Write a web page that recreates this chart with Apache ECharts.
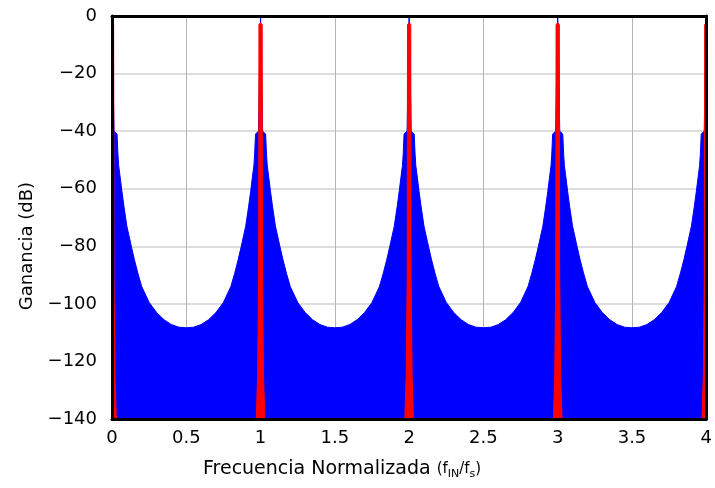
<!DOCTYPE html>
<html>
<head>
<meta charset="utf-8">
<script src="https://cdn.jsdelivr.net/npm/echarts@6/dist/echarts.min.js"></script>
<style>body{margin:0;background:#fff}#chart{width:715px;height:488px}</style>
</head>
<body>
<div id="chart"></div>
<script>
const freqLobe1 = [0, 0.006, 0.013, 0.014, 0.034, 0.04, 0.045, 0.055, 0.067, 0.08, 0.1, 0.13, 0.15, 0.175, 0.2, 0.25, 0.3, 0.35, 0.4, 0.45, 0.5, 0.55, 0.6, 0.65, 0.7, 0.75, 0.8, 0.825, 0.85, 0.87, 0.9, 0.92, 0.933, 0.945, 0.955, 0.96, 0.966, 0.986, 0.987, 0.994];
const gainLobe1 = [0, -15, -38, -40, -41, -48, -52, -56, -61, -66, -73, -80, -84.5, -89.5, -94, -99.5, -103, -105.5, -107.2, -108.1, -108.3, -108.1, -107.2, -105.5, -103, -99.5, -94, -89.5, -84.5, -80, -73, -66, -61, -56, -52, -48, -41, -40, -38, -15];
const freqLobe2 = [1, 1.006, 1.013, 1.014, 1.034, 1.04, 1.045, 1.055, 1.067, 1.08, 1.1, 1.13, 1.15, 1.175, 1.2, 1.25, 1.3, 1.35, 1.4, 1.45, 1.5, 1.55, 1.6, 1.65, 1.7, 1.75, 1.8, 1.825, 1.85, 1.87, 1.9, 1.92, 1.933, 1.945, 1.955, 1.96, 1.966, 1.986, 1.987, 1.994];
const gainLobe2 = [0, -15, -38, -40, -41, -48, -52, -56, -61, -66, -73, -80, -84.5, -89.5, -94, -99.5, -103, -105.5, -107.2, -108.1, -108.3, -108.1, -107.2, -105.5, -103, -99.5, -94, -89.5, -84.5, -80, -73, -66, -61, -56, -52, -48, -41, -40, -38, -15];
const freqLobe3 = [2, 2.006, 2.013, 2.014, 2.034, 2.04, 2.045, 2.055, 2.067, 2.08, 2.1, 2.13, 2.15, 2.175, 2.2, 2.25, 2.3, 2.35, 2.4, 2.45, 2.5, 2.55, 2.6, 2.65, 2.7, 2.75, 2.8, 2.825, 2.85, 2.87, 2.9, 2.92, 2.933, 2.945, 2.955, 2.96, 2.966, 2.986, 2.987, 2.994];
const gainLobe3 = [0, -15, -38, -40, -41, -48, -52, -56, -61, -66, -73, -80, -84.5, -89.5, -94, -99.5, -103, -105.5, -107.2, -108.1, -108.3, -108.1, -107.2, -105.5, -103, -99.5, -94, -89.5, -84.5, -80, -73, -66, -61, -56, -52, -48, -41, -40, -38, -15];
const freqLobe4 = [3, 3.006, 3.013, 3.014, 3.034, 3.04, 3.045, 3.055, 3.067, 3.08, 3.1, 3.13, 3.15, 3.175, 3.2, 3.25, 3.3, 3.35, 3.4, 3.45, 3.5, 3.55, 3.6, 3.65, 3.7, 3.75, 3.8, 3.825, 3.85, 3.87, 3.9, 3.92, 3.933, 3.945, 3.955, 3.96, 3.966, 3.986, 3.987, 3.994, 4];
const gainLobe4 = [0, -15, -38, -40, -41, -48, -52, -56, -61, -66, -73, -80, -84.5, -89.5, -94, -99.5, -103, -105.5, -107.2, -108.1, -108.3, -108.1, -107.2, -105.5, -103, -99.5, -94, -89.5, -84.5, -80, -73, -66, -61, -56, -52, -48, -41, -40, -38, -15, 0];

// picos rojos en cada multiplo de fs
const redPeaks = [
  { freq: [0, 0.011, 0.013, 0.02, 0.029], gain: [-2.3, -3, -90, -125, -140] },
  { freq: [0.971, 0.98, 0.987, 0.989, 1, 1.011, 1.013, 1.02, 1.029], gain: [-140, -125, -90, -3, -2.3, -3, -90, -125, -140] },
  { freq: [1.971, 1.98, 1.987, 1.989, 2, 2.011, 2.013, 2.02, 2.029], gain: [-140, -125, -90, -3, -2.3, -3, -90, -125, -140] },
  { freq: [2.971, 2.98, 2.987, 2.989, 3, 3.011, 3.013, 3.02, 3.029], gain: [-140, -125, -90, -3, -2.3, -3, -90, -125, -140] },
  { freq: [3.971, 3.98, 3.987, 3.989, 4], gain: [-140, -125, -90, -3, -2.3] }
];

const xTicks = [0, 0.5, 1, 1.5, 2, 2.5, 3, 3.5, 4];
const yTicks = [0, -20, -40, -60, -80, -100, -120, -140];

const zip = (xs, ys) => xs.map((x, i) => [x, ys[i]]);
const blueData = [].concat(
  zip(freqLobe1, gainLobe1), zip(freqLobe2, gainLobe2),
  zip(freqLobe3, gainLobe3), zip(freqLobe4, gainLobe4)
);

const FONT = 'DejaVu Sans';
const minus = v => String(v).replace('-', '\u2212');

// ejes extra solo para el marco negro, por encima de las series
const frame = pos => ({
  type: 'value', position: pos,
  axisLine: { show: true, onZero: false, lineStyle: { color: '#000', width: 3 } },
  axisTick: { show: false },
  axisLabel: { show: false },
  splitLine: { show: false },
  z: 10
});

const series = [{
  type: 'line',
  data: blueData,
  showSymbol: false,
  smooth: false,
  lineStyle: { color: '#0000ff', width: 1 },
  areaStyle: { color: '#0000ff', opacity: 1, origin: 'start' },
  itemStyle: { color: '#0000ff' },
  z: 2
}];
redPeaks.forEach(p => series.push({
  type: 'line',
  data: zip(p.freq, p.gain),
  showSymbol: false,
  lineStyle: { color: '#ff0000', width: 1 },
  areaStyle: { color: '#ff0000', opacity: 1, origin: 'start' },
  itemStyle: { color: '#ff0000' },
  z: 3
}));

const chart = echarts.init(document.getElementById('chart'));
chart.setOption({
  animation: false,
  backgroundColor: '#fff',
  grid: { left: 112, right: 6, top: 16, bottom: 69 },
  xAxis: [{
    type: 'value', min: 0, max: 4, interval: 0.5, position: 'bottom',
    axisLine: { show: false },
    axisTick: { show: false },
    axisLabel: {
      fontFamily: FONT, fontSize: 18, color: '#000', margin: 10,
      formatter: v => xTicks.includes(v) ? String(v) : ''
    },
    splitLine: { show: true, lineStyle: { color: '#b4b4b4', width: 1 } }
  }, Object.assign(frame('top'), { min: 0, max: 4 }),
     Object.assign(frame('bottom'), { min: 0, max: 4 })],
  yAxis: [{
    type: 'value', min: -140, max: 0, interval: 20, position: 'left',
    axisLine: { show: false },
    axisTick: { show: false },
    axisLabel: {
      fontFamily: FONT, fontSize: 18, color: '#000', margin: 15,
      formatter: v => yTicks.includes(v) ? minus(v) : ''
    },
    splitLine: { show: true, lineStyle: { color: '#d2d2d2', width: 1.5 } }
  }, Object.assign(frame('right'), { min: -140, max: 0 }),
     Object.assign(frame('left'), { min: -140, max: 0 })],
  graphic: [{
    type: 'text',
    x: 27, y: 246,
    rotation: Math.PI / 2,
    style: {
      text: 'Ganancia (dB)',
      font: '18px "DejaVu Sans"',
      fill: '#000',
      align: 'center',
      verticalAlign: 'middle'
    }
  }, {
    type: 'text',
    x: 203, y: 456,
    style: {
      text: '{a|Frecuencia Normalizada }{b|(f}{s|IN}{b|/f}{s|s}{b|)}',
      fill: '#000',
      rich: {
        a: { fontFamily: FONT, fontSize: 19, color: '#000', lineHeight: 26 },
        b: { fontFamily: FONT, fontSize: 15, color: '#000', lineHeight: 26 },
        s: { fontFamily: FONT, fontSize: 11, color: '#000', lineHeight: 26, padding: [10, 0, 0, 0] }
      }
    }
  }],
  series: series
});
</script>
</body>
</html>
